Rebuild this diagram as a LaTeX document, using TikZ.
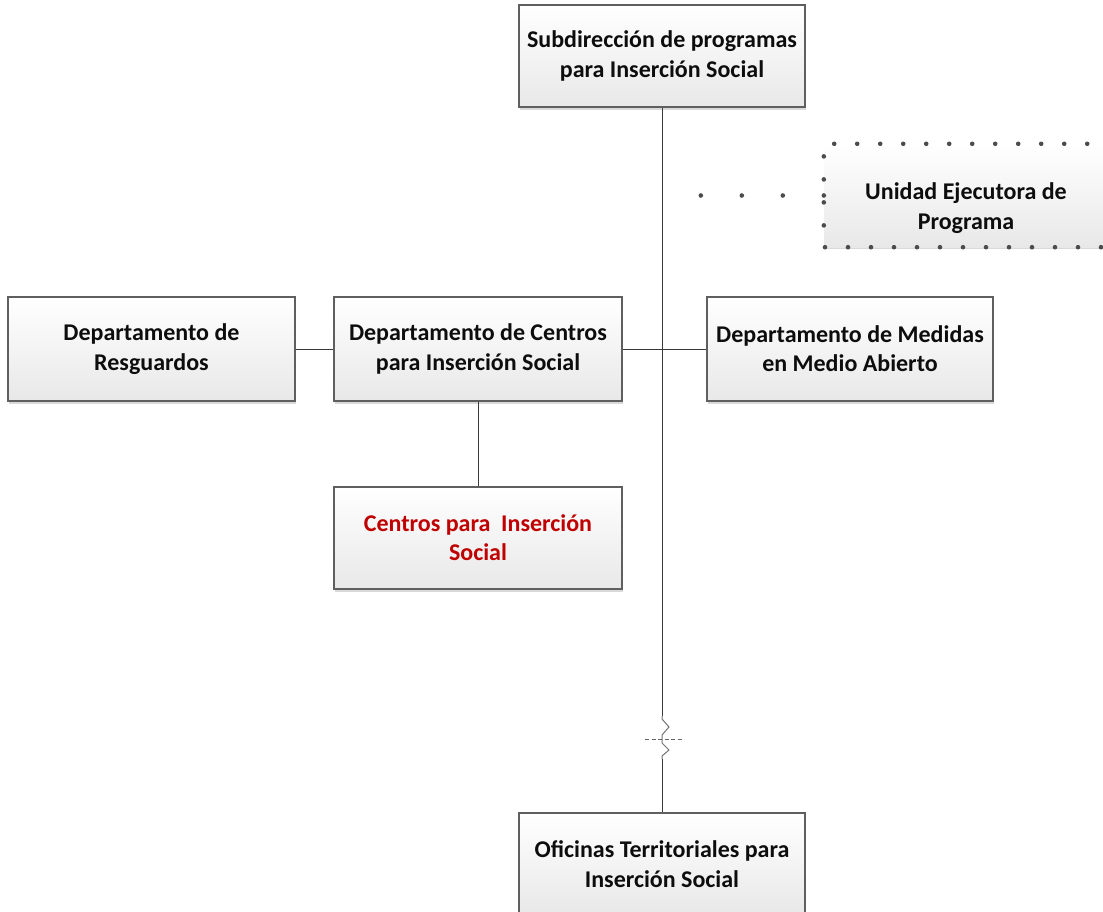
\documentclass[tikz,border=0pt]{standalone}
\usepackage{fontspec}
\setmainfont{Carlito}
\usetikzlibrary{shadows}
\definecolor{edge}{HTML}{5F5F5F}
\definecolor{orgred}{HTML}{C00000}
\definecolor{wire}{HTML}{3A3A3A}
\begin{document}
\begin{tikzpicture}[x=1pt,y=-1pt,
  orgbox/.style={draw=edge, line width=1.1pt, top color=white, bottom color=black!9,
    minimum width=286pt, minimum height=102pt, inner sep=0pt, align=center,
    font=\bfseries\fontsize{24}{29.3}\selectfont, text=black!95,
    drop shadow={shadow xshift=1pt, shadow yshift=-3pt, opacity=0.15, fill=black}},
  plainbox/.style={top color=white, bottom color=black!9,
    minimum width=286pt, minimum height=103pt, inner sep=0pt,
    drop shadow={shadow xshift=0pt, shadow yshift=-2pt, opacity=0.15, fill=black}},
  boxtext/.style={align=center, font=\bfseries\fontsize{24}{29.3}\selectfont, text=black!95},
  link/.style={draw=wire, line width=1pt},
  zig/.style={draw=black!55, line width=1pt},
  crossmark/.style={draw=black!60, line width=1pt, dash pattern=on 4pt off 2.5pt},
  dotrow/.style={draw=black!70, line width=4.6pt, line cap=round, dash pattern=on 0pt off 23pt},
  leaddots/.style={draw=black!70, line width=4.6pt, line cap=round, dash pattern=on 0pt off 41pt}]
\useasboundingbox (0,0) rectangle (1103,911);
\clip (0,0) rectangle (1103,911);

% boxes
\node[orgbox] (sub) at (662,56) {Subdirección de programas\\para Inserción Social};
\node[orgbox, minimum width=287pt, minimum height=104pt] (res) at (151.5,349) {Departamento de\\Resguardos};
\node[orgbox, minimum width=288pt, minimum height=104pt] (cen) at (478,349) {Departamento de Centros\\para Inserción Social};
\node[orgbox, minimum height=104pt] (med) at (850,349) {Departamento de Medidas\\en Medio Abierto};
\node[orgbox, minimum width=288pt, text=orgred] (cis) at (478,538) {Centros para\ \ Inserción\\Social};
\node[orgbox] (ofi) at (662,864) {Oficinas Territoriales para\\Inserción Social};

% dotted unit box
\node[plainbox] (uni) at (967,195.5) {};
\node[boxtext] (unitxt) at (966,208) {Unidad Ejecutora de\\Programa};
\draw[dotrow] (uni.north east) -- (uni.north west) -- (uni.south west) -- (uni.south east);
\coordinate (lead) at (698,195.5);
\draw[leaddots] (uni.west) -- (lead);

% connectors
\draw[link] (res.east) -- (cen.west);
\draw[link] (cen.east) -- (med.west);
\draw[link] (cen.south) -- (cis.north);
\coordinate (brk1) at (662,716);
\coordinate (brk2) at (662,759);
\draw[link] (sub.south) -- (brk1);
\draw[zig] (brk1) -- (662,719) -- (669,727) -- (662,735) -- (662,743) -- (669,750) -- (662,756) -- (brk2);
\draw[link] (brk2) -- (ofi.north);
\coordinate (cx1) at (645,739);
\coordinate (cx2) at (684,739);
\draw[crossmark] (cx1) -- (cx2);
\end{tikzpicture}
\end{document}
